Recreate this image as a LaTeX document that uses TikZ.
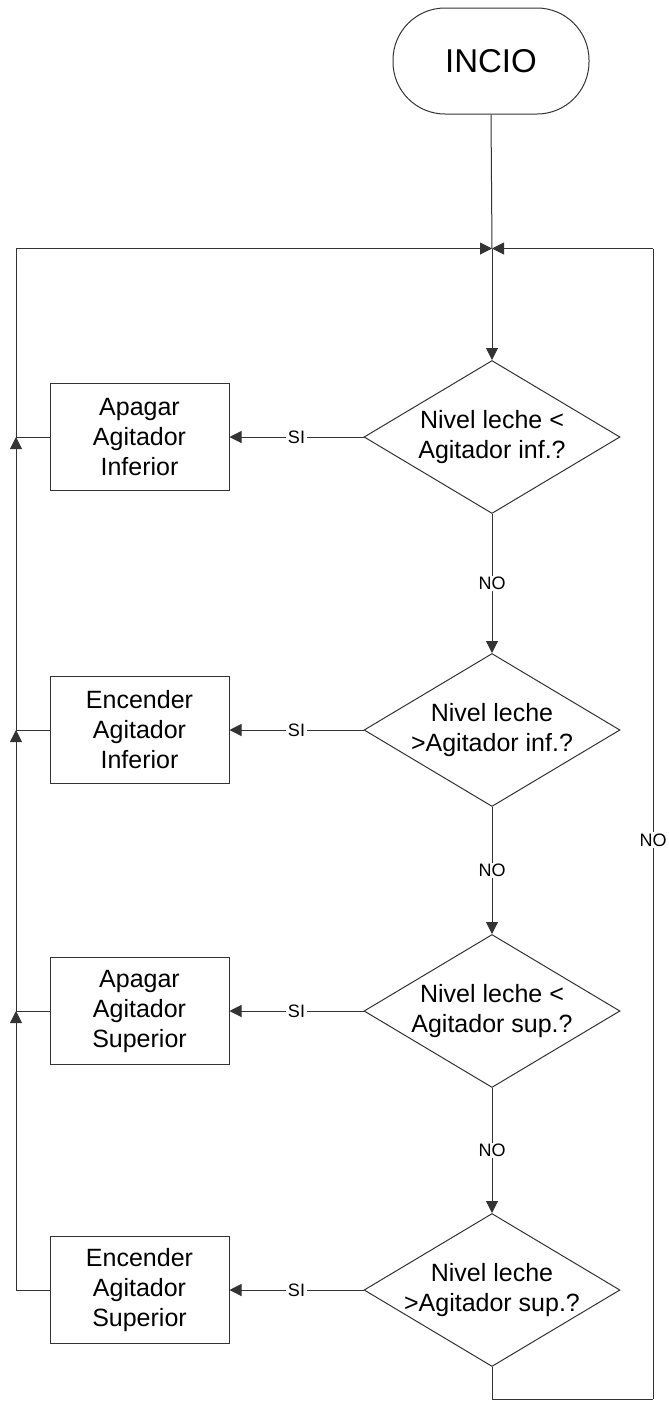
\documentclass[tikz,border=0pt]{standalone}
\usepackage{fontspec}
\setmainfont{Liberation Sans}
\usetikzlibrary{shapes.geometric,arrows.meta}
\begin{document}
\begin{tikzpicture}[x=1pt,y=-1pt,
  line/.style={draw=black!80, line width=1pt},
  flow/.style={line, -{Triangle[length=12pt,width=12pt]}},
  terminal/.style={draw=black!80, line width=1pt, rectangle, rounded corners=52pt,
    minimum width=196pt, minimum height=106pt, font=\fontsize{33}{36}\selectfont},
  decision/.style={draw=black!80, line width=1pt, diamond, minimum width=256pt,
    minimum height=153pt, inner sep=0pt},
  dtext/.style={align=center, inner sep=0pt, font=\fontsize{25}{30}\selectfont},
  process/.style={draw=black!80, line width=1pt, rectangle, minimum width=179pt,
    minimum height=107pt, align=center, font=\fontsize{25}{30}\selectfont},
  lbl/.style={fill=white, inner sep=1.5pt, font=\fontsize{18}{20}\selectfont}
]
\useasboundingbox (0,0) rectangle (669,1401);

% start
\node[terminal] (start) at (491,61) {INCIO};

% decisions (outline nodes, wording set in their centres)
\node[decision] (d1) at (492,437)  {};
\node[decision] (d2) at (492,730)  {};
\node[decision] (d3) at (492,1011) {};
\node[decision] (d4) at (492,1290) {};
\node[dtext] (t1) at (d1.center) {Nivel leche <\\Agitador inf.?};
\node[dtext] (t2) at (d2.center) {Nivel leche\\>Agitador inf.?};
\node[dtext] (t3) at (d3.center) {Nivel leche <\\Agitador sup.?};
\node[dtext] (t4) at (d4.center) {Nivel leche\\>Agitador sup.?};

% actions
\node[process] (b1) at (139.5,437)  {Apagar\\Agitador\\Inferior};
\node[process] (b2) at (139.5,730)  {Encender\\Agitador\\Inferior};
\node[process] (b3) at (139.5,1011) {Apagar\\Agitador\\Superior};
\node[process] (b4) at (139.5,1290) {Encender\\Agitador\\Superior};

% junction points
\coordinate (j0) at (492,248.5);
\coordinate (l1) at (16,437);
\coordinate (l2) at (16,730);
\coordinate (l3) at (16,1011);
\coordinate (l4) at (16,1290);
\coordinate (rb) at (492,1399);
\coordinate (rc) at (653,1399);
\coordinate (rt) at (653,248.5);

% main stem
\draw[line] (start.south) -- (j0);
\draw[flow] (j0) -- (d1.north);
\draw[flow] (d1.south) -- node[lbl] {NO} (d2.north);
\draw[flow] (d2.south) -- node[lbl] {NO} (d3.north);
\draw[flow] (d3.south) -- node[lbl] {NO} (d4.north);

% SI branches
\draw[flow] (d1.west) -- node[lbl] {SI} (b1.east);
\draw[flow] (d2.west) -- node[lbl] {SI} (b2.east);
\draw[flow] (d3.west) -- node[lbl] {SI} (b3.east);
\draw[flow] (d4.west) -- node[lbl] {SI} (b4.east);

% return bus on the left
\draw[line] (b1.west) -- (l1);
\draw[line] (b2.west) -- (l2);
\draw[line] (b3.west) -- (l3);
\draw[line] (b4.west) -- (l4);
\draw[flow] (l4) -- (l3);
\draw[flow] (l3) -- (l2);
\draw[flow] (l2) -- (l1);
\draw[flow] (l1) |- (j0);

% NO loop on the right
\draw[line] (d4.south) -- (rb) -- (rc);
\draw[line] (rc) -- node[lbl, pos=0.486] {NO} (rt);
\draw[flow] (rt) -- (j0);
\end{tikzpicture}
\end{document}
